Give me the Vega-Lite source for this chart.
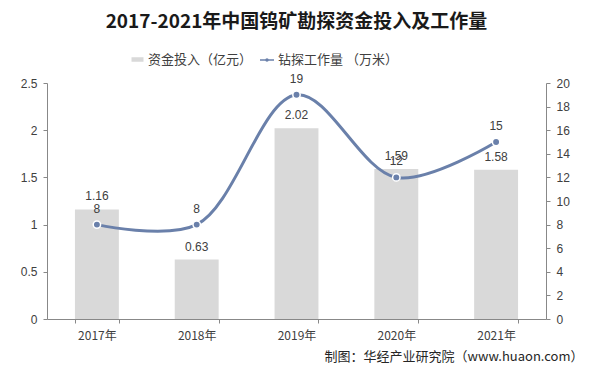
{
  "$schema": "https://vega.github.io/schema/vega-lite/v6.json",
  "width": 499,
  "height": 236,
  "autosize": {"type": "none"},
  "padding": {"left": 47, "top": 83, "right": 51, "bottom": 56},
  "background": "white",
  "title": {
    "text": "2017-2021年中国钨矿勘探资金投入及工作量",
    "font": "Noto Sans CJK SC",
    "fontSize": 19,
    "fontWeight": "bold",
    "color": "#1a1a1a",
    "anchor": "middle",
    "offset": 21
  },
  "data": {
    "values": [
      {"year": "2017年", "invest": 1.16, "drill": 8},
      {"year": "2018年", "invest": 0.63, "drill": 8},
      {"year": "2019年", "invest": 2.02, "drill": 19},
      {"year": "2020年", "invest": 1.59, "drill": 12},
      {"year": "2021年", "invest": 1.58, "drill": 15}
    ]
  },
  "encoding": {
    "x": {
      "field": "year",
      "type": "nominal",
      "sort": null,
      "scale": {"paddingInner": 0.56, "paddingOuter": 0.28},
      "axis": {
        "labelAngle": 0,
        "tickBand": "extent",
        "title": "制图：华经产业研究院（www.huaon.com）",
        "titleAnchor": null,
        "titleAlign": "right",
        "titleX": 536,
        "titleY": 37,
        "titleBaseline": "middle",
        "titleFontSize": 13,
        "titleFontWeight": "normal",
        "titleColor": "#262626",
        "titleFont": "Noto Sans CJK SC"
      }
    }
  },
  "layer": [
    {
      "encoding": {
        "y": {
          "field": "invest",
          "type": "quantitative",
          "scale": {"domain": [0, 2.5], "nice": false},
          "axis": {"title": null, "values": [0, 0.5, 1, 1.5, 2, 2.5], "format": "~g", "labelPadding": 6, "labelOverlap": false}
        }
      },
      "layer": [
        {
          "mark": {"type": "bar", "color": "#d9d9d9"},
          "encoding": {
            "color": {
              "datum": "资金投入（亿元）",
              "scale": {"range": ["#d9d9d9"]},
              "legend": {
                "orient": "none",
                "legendX": 84,
                "legendY": -30,
                "title": null,
                "symbolType": "M-1,-0.375H1V0.375H-1Z",
                "symbolSize": 144,
                "symbolStrokeWidth": 0
              }
            }
          }
        },
        {
          "mark": {"type": "text", "baseline": "bottom", "dy": -6, "fontSize": 12, "color": "#404040", "font": "Liberation Sans"},
          "encoding": {
            "text": {"field": "invest", "type": "quantitative", "format": ".2f"}
          }
        }
      ]
    },
    {
      "encoding": {
        "y": {
          "field": "drill",
          "type": "quantitative",
          "scale": {"domain": [0, 20], "nice": false},
          "axis": {"title": null, "orient": "right", "values": [0, 2, 4, 6, 8, 10, 12, 14, 16, 18, 20], "labelPadding": 6, "labelOverlap": false}
        }
      },
      "layer": [
        {
          "mark": {
            "type": "line",
            "interpolate": "catmull-rom",
            "strokeWidth": 3,
            "point": {"fill": "#6a80aa", "stroke": "white", "strokeWidth": 1.5, "size": 55, "filled": true}
          },
          "encoding": {
            "color": {
              "datum": "钻探工作量 （万米）",
              "scale": {"range": ["#6a80aa"]},
              "legend": {
                "orient": "none",
                "legendX": 213,
                "legendY": -30,
                "title": null,
                "symbolType": "M-1,-0.1H1V0.1H-1Z M0.25,0A0.25,0.25 0 1,1 -0.25,0A0.25,0.25 0 1,1 0.25,0Z",
                "symbolSize": 196,
                "symbolStrokeWidth": 0,
                "symbolFillColor": "#6a80aa"
              }
            }
          }
        },
        {
          "mark": {"type": "text", "baseline": "bottom", "dy": -9, "fontSize": 12, "color": "#404040", "font": "Liberation Sans"},
          "encoding": {
            "text": {"field": "drill", "type": "quantitative"}
          }
        }
      ]
    }
  ],
  "resolve": {"scale": {"y": "independent", "color": "independent"}},
  "config": {
    "view": {"stroke": null},
    "axis": {
      "grid": false,
      "domainColor": "#888888",
      "tickColor": "#888888",
      "tickSize": 4,
      "labelColor": "#404040",
      "labelFontSize": 12,
      "labelFont": "Liberation Sans"
    },
    "axisX": {"labelFontSize": 12, "labelFont": "Noto Sans CJK SC", "labelPadding": 7},
    "legend": {
      "labelFont": "Noto Sans CJK SC",
      "labelFontSize": 13,
      "labelColor": "#404040",
      "direction": "horizontal",
      "labelOffset": 4
    }
  }
}
